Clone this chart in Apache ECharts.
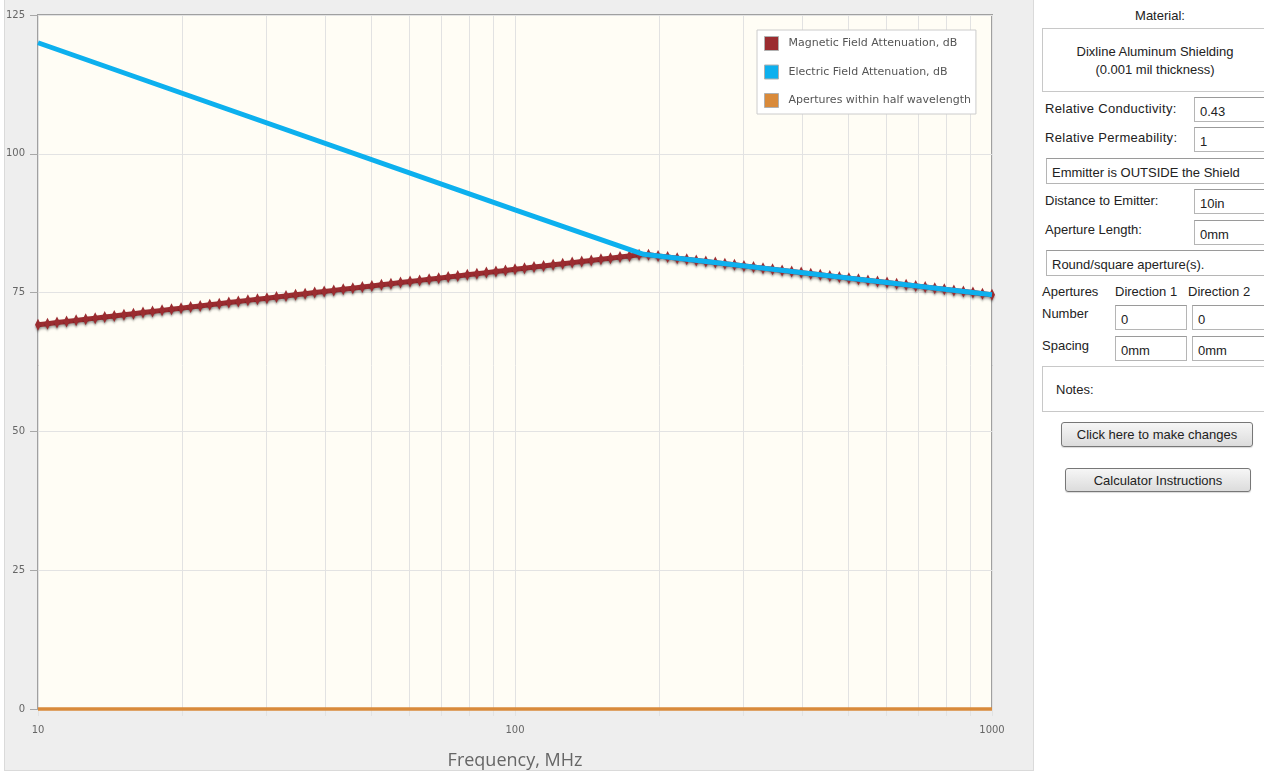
<!DOCTYPE html>
<html>
<head>
<meta charset="utf-8">
<script src="https://cdn.jsdelivr.net/npm/echarts@6/dist/echarts.min.js"></script>
<style>
  html, body { margin:0; padding:0; width:1264px; height:774px; overflow:hidden; background:#fff; font-family:"Liberation Sans", Arial, sans-serif; color:#222; }
  #bg { position:absolute; left:4px; top:0; width:1028px; height:770px; background:#eeeeee; border:1px solid #dadada; border-top:none; }
  #chart { position:absolute; left:0; top:0; width:1033px; height:772px; }
  #panel { position:absolute; left:1034px; top:0; width:240px; height:774px; font-size:13px; }
  .abs { position:absolute; white-space:nowrap; }
  .box { position:absolute; border:1px solid #c8c8c8; background:#fff; box-sizing:border-box; }
  .inp { position:absolute; border:1px solid #b5b5b5; border-top-color:#9a9a9a; background:#fff; box-sizing:border-box; height:25px; padding:6px 0 0 5px; font-size:13px; }
  .btn { position:absolute; border:1px solid #777; border-radius:3px; box-sizing:border-box; background:linear-gradient(#f6f6f6,#dcdcdc); text-align:center; font-size:13px; padding-top:4px; box-shadow:0 1px 1px rgba(0,0,0,0.15); }
</style>
</head>
<body>
<div id="bg"></div>
<div id="chart"></div>
<div id="panel">
  <div class="abs" style="left:0;width:252px;text-align:center;top:8px;">Material:</div>
  <div class="box" style="left:8px;top:28px;width:240px;height:64px;">
    <div class="abs" style="left:0;width:224px;text-align:center;top:15px;">Dixline Aluminum Shielding</div>
    <div class="abs" style="left:0;width:224px;text-align:center;top:33px;">(0.001 mil thickness)</div>
  </div>
  <div class="abs" style="left:11px;top:101px;letter-spacing:0.3px;">Relative Conductivity:</div>
  <div class="inp" style="left:160px;top:97px;width:90px;">0.43</div>
  <div class="abs" style="left:11px;top:130px;letter-spacing:0.3px;">Relative Permeability:</div>
  <div class="inp" style="left:160px;top:127px;width:90px;">1</div>
  <div class="inp" style="left:12px;top:158px;width:240px;height:26px;padding-top:6px;">Emmitter is OUTSIDE the Shield</div>
  <div class="abs" style="left:11px;top:193px;">Distance to Emitter:</div>
  <div class="inp" style="left:160px;top:189px;width:90px;">10in</div>
  <div class="abs" style="left:11px;top:222px;">Aperture Length:</div>
  <div class="inp" style="left:160px;top:220px;width:90px;">0mm</div>
  <div class="inp" style="left:12px;top:250px;width:240px;height:26px;padding-top:6px;">Round/square aperture(s).</div>
  <div class="abs" style="left:8px;top:284px;">Apertures</div>
  <div class="abs" style="left:81px;top:284px;">Direction 1</div>
  <div class="abs" style="left:154px;top:284px;">Direction 2</div>
  <div class="abs" style="left:8px;top:306px;">Number</div>
  <div class="inp" style="left:81px;top:305px;width:72px;">0</div>
  <div class="inp" style="left:158px;top:305px;width:80px;">0</div>
  <div class="abs" style="left:8px;top:338px;">Spacing</div>
  <div class="inp" style="left:81px;top:336px;width:72px;">0mm</div>
  <div class="inp" style="left:158px;top:336px;width:80px;">0mm</div>
  <div class="box" style="left:8px;top:366px;width:240px;height:46px;">
    <div class="abs" style="left:13px;top:15px;">Notes:</div>
  </div>
  <div class="btn" style="left:27px;top:422px;width:192px;height:25px;">Click here to make changes</div>
  <div class="btn" style="left:31px;top:468px;width:186px;height:24px;">Calculator Instructions</div>
</div>
<script>
// Frequencies (MHz) of the magnetic-field series samples
const freqs = [10, 10.47, 10.96, 11.48, 12.02, 12.59, 13.18, 13.8, 14.45, 15.14,
  15.85, 16.6, 17.38, 18.2, 19.05, 19.95, 20.89, 21.88, 22.91, 23.99,
  25.12, 26.3, 27.54, 28.84, 30.2, 31.62, 33.11, 34.67, 36.31, 38.02,
  39.81, 41.69, 43.65, 45.71, 47.86, 50.12, 52.48, 54.95, 57.54, 60.26,
  63.1, 66.07, 69.18, 72.44, 75.86, 79.43, 83.18, 87.1, 91.2, 95.5,
  100, 104.7, 109.6, 114.8, 120.2, 125.9, 131.8, 138, 144.5, 151.4,
  158.5, 166, 173.8, 182, 190.5, 199.5, 208.9, 218.8, 229.1, 239.9,
  251.2, 263, 275.4, 288.4, 302, 316.2, 331.1, 346.7, 363.1, 380.2,
  398.1, 416.9, 436.5, 457.1, 478.6, 501.2, 524.8, 549.5, 575.4, 602.6,
  631, 660.7, 691.8, 724.4, 758.6, 794.3, 831.8, 871, 912, 955, 1000];
// Magnetic Field Attenuation, dB
const magnetic = [69.2, 69.4, 69.6, 69.8, 70.0, 70.2, 70.4, 70.6, 70.8, 71.0,
  71.2, 71.4, 71.6, 71.8, 72.0, 72.2, 72.4, 72.6, 72.8, 73.0,
  73.2, 73.4, 73.6, 73.8, 74.0, 74.2, 74.4, 74.6, 74.8, 75.0,
  75.2, 75.4, 75.6, 75.8, 76.0, 76.2, 76.4, 76.6, 76.8, 77.0,
  77.2, 77.4, 77.6, 77.8, 78.0, 78.2, 78.4, 78.6, 78.8, 79.0,
  79.2, 79.4, 79.6, 79.8, 80.0, 80.2, 80.4, 80.6, 80.8, 81.0,
  81.2, 81.4, 81.6, 81.8, 81.8, 81.6, 81.4, 81.2, 81.0, 80.8,
  80.6, 80.4, 80.2, 80.0, 79.8, 79.6, 79.4, 79.2, 79.0, 78.8,
  78.6, 78.4, 78.2, 78.0, 77.8, 77.6, 77.4, 77.2, 77.0, 76.8,
  76.6, 76.4, 76.2, 76.0, 75.8, 75.6, 75.4, 75.2, 75.0, 74.8, 74.6];
// Electric Field Attenuation, dB (straight segments on log axis)
const electricFreqs = [10, 100, 186, 1000];
const electric = [120, 89.9, 81.9, 74.6];
// Apertures within half wavelength
const apertureFreqs = [10, 1000];
const apertures = [0, 0];
// vertical grid lines / ticks
const gridFreqs = [10, 20, 30, 40, 50, 60, 70, 80, 90, 100, 200, 300, 400, 500, 600, 700, 800, 900, 1000];
const yTicks = [0, 25, 50, 75, 100, 125];

const names = ['Magnetic Field Attenuation, dB', 'Electric Field Attenuation, dB', 'Apertures within half wavelength'];
const colors = ['#9b2c30', '#0db0ee', '#d98a3a'];

const chart = echarts.init(document.getElementById('chart'));
chart.setOption({
  animation: false,
  backgroundColor: 'transparent',
  grid: { left: 38, top: 15, width: 954, height: 694, show: true, backgroundColor: '#fffdf5', borderColor: '#a0a0a0', borderWidth: 2, outerBoundsMode: 'none', containLabel: false },
  legend: {
    orient: 'vertical', left: 757, top: 30,
    padding: [6, 5, 6, 7], itemGap: 13.5, itemWidth: 14, itemHeight: 14,
    backgroundColor: '#ffffff', borderColor: '#cccccc', borderWidth: 1,
    textStyle: { fontFamily: 'DejaVu Sans', fontSize: 11, color: '#555', padding: [0, 0, 0, 5] },
    data: names.map((n, i) => ({ name: n, icon: 'rect', itemStyle: { color: colors[i], borderColor: '#b0b0b0', borderWidth: 1 } }))
  },
  xAxis: {
    type: 'log', logBase: 10, min: 10, max: 1000,
    name: 'Frequency, MHz', nameLocation: 'middle', nameGap: 43,
    nameTextStyle: { fontFamily: 'Open Sans', fontSize: 18, color: '#666' },
    axisLine: { show: false }, axisTick: { show: false }, splitLine: { show: false },
    axisLabel: { fontFamily: 'DejaVu Sans', fontSize: 10, color: '#666', margin: 16, formatter: v => String(v) }
  },
  yAxis: {
    type: 'value', min: yTicks[0], max: yTicks[yTicks.length - 1], interval: 25,
    axisLine: { show: false },
    axisTick: { show: true, length: 8, lineStyle: { color: '#a8a8a8' } },
    axisLabel: { fontFamily: 'DejaVu Sans', fontSize: 10, color: '#666', margin: 13 },
    splitLine: { lineStyle: { color: '#e3e3e3', width: 1 } }
  },
  series: [
    {
      type: 'custom', silent: true, z: 1, clip: false,
      data: gridFreqs.map(f => [f]),
      encode: { x: 0 },
      renderItem: function (params, api) {
        const f = api.value(0);
        const top = api.coord([f, 125]);
        const bot = api.coord([f, 0]);
        return { type: 'line', shape: { x1: Math.round(top[0]) + 0.5, y1: top[1], x2: Math.round(bot[0]) + 0.5, y2: bot[1] + 7 }, style: { stroke: '#e2e2e2', lineWidth: 1 } };
      }
    },
    {
      name: names[0], type: 'line', z: 3,
      data: freqs.map((f, i) => [f, magnetic[i]]),
      symbol: 'diamond', symbolSize: [6, 12], showSymbol: true, showAllSymbol: true,
      itemStyle: { color: colors[0], shadowColor: 'rgba(0,0,0,0.3)', shadowBlur: 2, shadowOffsetY: 2 },
      lineStyle: { color: colors[0], width: 5, shadowColor: 'rgba(0,0,0,0.35)', shadowBlur: 3, shadowOffsetY: 2 }
    },
    {
      name: names[1], type: 'line', z: 4,
      data: electricFreqs.map((f, i) => [f, electric[i]]),
      symbol: 'none', itemStyle: { color: colors[1] },
      lineStyle: { color: colors[1], width: 5 }
    },
    {
      name: names[2], type: 'line', z: 5, clip: false,
      data: apertureFreqs.map((f, i) => [f, apertures[i]]),
      symbol: 'none', itemStyle: { color: colors[2] },
      lineStyle: { color: colors[2], width: 3.5 }
    }
  ]
});
</script>
</body>
</html>
